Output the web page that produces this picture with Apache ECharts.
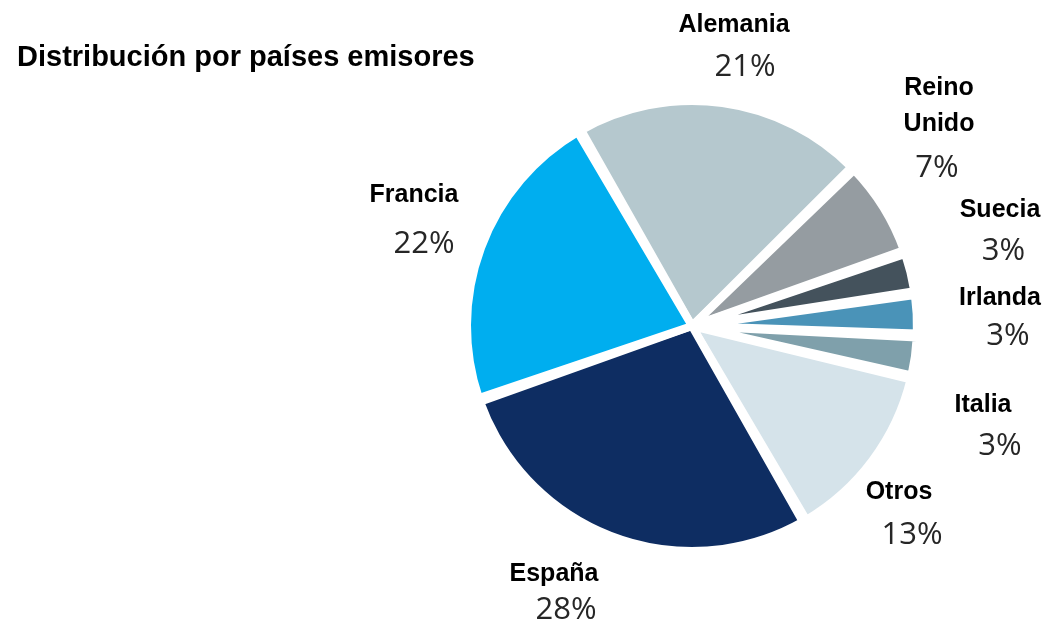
<!DOCTYPE html>
<html>
<head>
<meta charset="utf-8">
<script src="https://cdn.jsdelivr.net/npm/echarts@6/dist/echarts.min.js"></script>
<style>
html,body{margin:0;padding:0;background:#fff;}
#chart{width:1048px;height:621px;}
</style>
</head>
<body>
<div id="chart"></div>
<script>
// Data
const categories = ['Alemania', 'Reino Unido', 'Suecia', 'Irlanda', 'Italia', 'Otros', 'España', 'Francia'];
const shares = [21, 7, 3, 3, 3, 13, 28, 22];
const colors = ['#b5c8ce', '#959ca1', '#44525c', '#4a93b8', '#7fa0ab', '#d5e3ea', '#0e2d62', '#00aeef'];
const titleText = 'Distribución por países emisores';

// Label layout (block top-centre, px), percent-line nudges and line heights
const labelX = [734, 939, 1000, 1000, 983, 899, 554, 414];
const labelY = [7.5, 70.5, 192.5, 280.5, 387, 474, 556.5, 177];
const pctShift = [11, -2, 3.5, 8, 17, 13, 12, 10];
const pctLineH = [47, 51, 45, 39, 46, 50, 35, 62];

const rich = {
  n: { fontFamily: 'Liberation Sans, Arial, sans-serif', fontWeight: 'bold', fontSize: 25, color: '#000', lineHeight: 36, align: 'center' }
};
pctShift.forEach((s, i) => {
  rich['p' + i] = {
    fontFamily: 'Open Sans, sans-serif', fontSize: 31, color: '#262626', lineHeight: pctLineH[i], align: 'center',
    padding: s >= 0 ? [0, 0, 0, 2 * s] : [0, -2 * s, 0, 0]
  };
});

const chart = echarts.init(document.getElementById('chart'), null, { renderer: 'canvas' });
chart.setOption({
  animation: false,
  backgroundColor: '#fff',
  title: {
    text: titleText, left: 17, top: 43, padding: 0,
    textStyle: { fontFamily: 'Liberation Sans, Arial, sans-serif', fontWeight: 'bold', fontSize: 29, color: '#000' }
  },
  series: [{
    type: 'pie',
    center: [692, 326],
    radius: 225,
    startAngle: 120,
    clockwise: true,
    padAngle: 1,
    avoidLabelOverlap: false,
    itemStyle: { borderColor: '#fff', borderWidth: 8 },
    label: {
      show: true,
      position: 'outside',
      formatter: (p) => {
        const lines = p.name.split(' ').map(w => '{n|' + w + '}');
        return lines.join('\n') + '\n{p' + p.dataIndex + '|' + p.value + '%}';
      },
      rich: rich
    },
    labelLine: { show: false },
    labelLayout: (params) => ({
      x: labelX[params.dataIndex],
      y: labelY[params.dataIndex],
      align: 'center',
      verticalAlign: 'top'
    }),
    emphasis: { disabled: true },
    data: categories.map((c, i) => ({ name: c, value: shares[i], itemStyle: { color: colors[i] } }))
  }]
});
</script>
</body>
</html>
